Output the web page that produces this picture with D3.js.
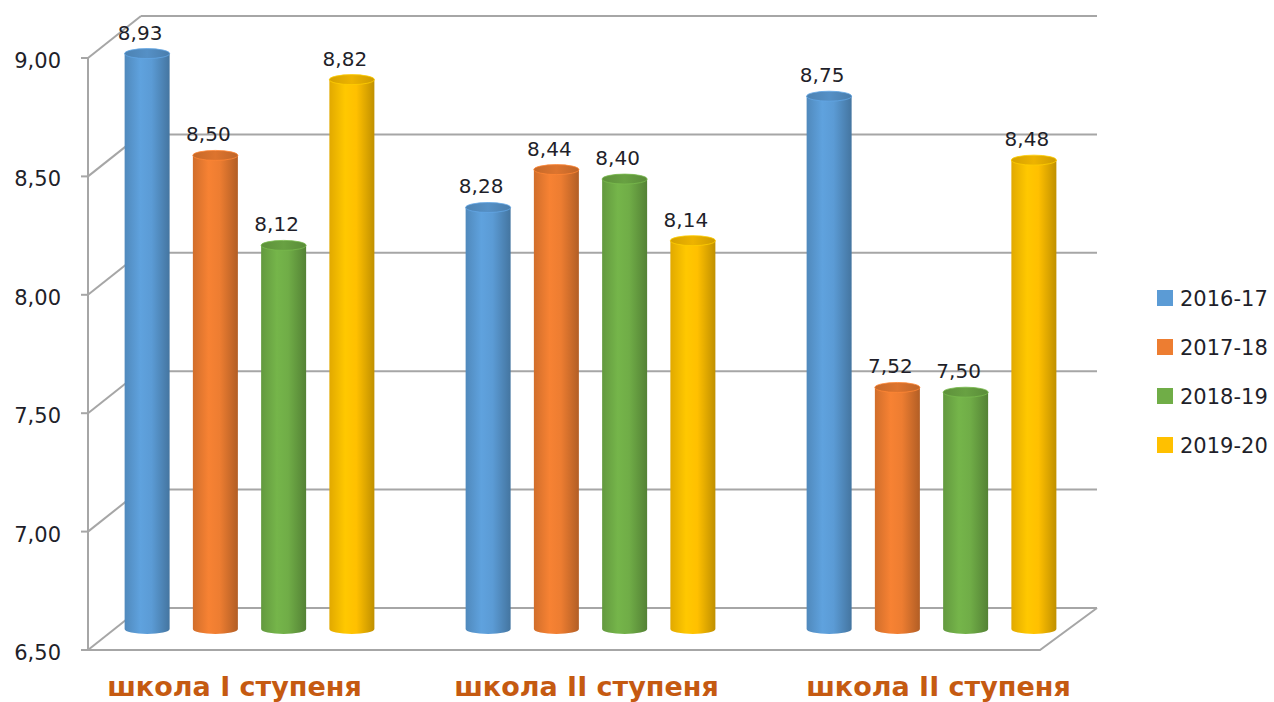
<!DOCTYPE html>
<html>
<head>
<meta charset="utf-8">
<script src="https://cdn.jsdelivr.net/npm/d3@7"></script>
<style>
  html, body { margin: 0; padding: 0; background: #fff; }
  svg { display: block; }
</style>
</head>
<body>
<div id="chart"></div>
<script>
// chart data
const categories = ['школа I ступеня', 'школа II ступеня', 'школа II ступеня '];
const seriesNames = ['2016-17', '2017-18', '2018-19', '2019-20'];
const seriesColors = ['#5b9bd5', '#ed7d31', '#70ad47', '#ffc000'];
const values2016 = [8.93, 8.28, 8.75];
const values2017 = [8.50, 8.44, 7.52];
const values2018 = [8.12, 8.40, 7.50];
const values2019 = [8.82, 8.14, 8.48];
const yTicks = [6.5, 7.0, 7.5, 8.0, 8.5, 9.0];

const seriesValues = [values2016, values2017, values2018, values2019];

const width = 1274, height = 702;
const DX = 53, DY = -42;   // depth of the 3d box
const RX = 22.5, RY = 5;   // cylinder ellipse radii

const svg = d3.select('#chart').append('svg')
    .attr('width', width)
    .attr('height', height);

const y = d3.scaleLinear().domain([6.5, 9]).range([650, 58]);
const xOuter = d3.scaleBand().domain(d3.range(categories.length)).range([79, 1102]);
const xInner = d3.scaleBand().domain(seriesNames).range([0, 273])
    .paddingInner(0.34).paddingOuter(0.17);

const fmt = v => d3.format('.2f')(v).replace('.', ',');

// gradients for the cylinders
const defs = svg.append('defs');
seriesColors.forEach((c, i) => {
    const base = d3.color(c);
    const g = defs.append('linearGradient').attr('id', 'body' + i)
        .attr('x1', 0).attr('x2', 1).attr('y1', 0).attr('y2', 0);
    g.append('stop').attr('offset', '0%').attr('stop-color', base.darker(0.35));
    g.append('stop').attr('offset', '35%').attr('stop-color', base.brighter(0.12));
    g.append('stop').attr('offset', '60%').attr('stop-color', base);
    g.append('stop').attr('offset', '100%').attr('stop-color', base.darker(0.8));
    const t = defs.append('linearGradient').attr('id', 'cap' + i)
        .attr('x1', 0).attr('x2', 1).attr('y1', 0).attr('y2', 0);
    t.append('stop').attr('offset', '0%').attr('stop-color', base.darker(0.5));
    t.append('stop').attr('offset', '50%').attr('stop-color', base.darker(0.2));
    t.append('stop').attr('offset', '100%').attr('stop-color', base.darker(0.6));
});

const gridColor = '#a6a6a6';
const walls = svg.append('g').attr('stroke', gridColor).attr('stroke-width', 2).attr('fill', 'none');

// back wall gridlines
walls.selectAll('.back').data(yTicks).join('line')
    .attr('x1', 88 + DX).attr('x2', 1097)
    .attr('y1', d => y(d) + DY).attr('y2', d => y(d) + DY);

// side wall diagonals
walls.selectAll('.side').data(yTicks).join('line')
    .attr('x1', 88).attr('x2', 88 + DX)
    .attr('y1', d => y(d)).attr('y2', d => y(d) + DY);

// front axis + ticks
walls.append('line').attr('x1', 88).attr('x2', 88)
    .attr('y1', y(9)).attr('y2', y(6.5));
walls.selectAll('.tick').data(yTicks).join('line')
    .attr('x1', 81).attr('x2', 88)
    .attr('y1', d => y(d)).attr('y2', d => y(d));

// floor
walls.append('path')
    .attr('d', `M88,${y(6.5)} L1040,${y(6.5)} L1097,${y(6.5) + DY}`);

// y axis labels
svg.append('g').selectAll('text').data(yTicks).join('text')
    .attr('x', 61).attr('y', d => y(d) + 10)
    .attr('text-anchor', 'end')
    .attr('font-family', 'DejaVu Sans, sans-serif')
    .attr('font-size', 21)
    .attr('fill', '#1f1f2a')
    .text(d => fmt(d));

// cylinders
const bars = [];
seriesValues.forEach((vals, si) => {
    vals.forEach((v, ci) => {
        bars.push({ si, ci, v });
    });
});

const cx = d => xOuter(d.ci) + xOuter.bandwidth() / 2 - 136.5
    + xInner(seriesNames[d.si]) + xInner.bandwidth() / 2;

const barG = svg.append('g');
const cyl = barG.selectAll('g').data(bars).join('g');

cyl.append('path')
    .attr('fill', d => `url(#body${d.si})`)
    .attr('d', d => {
        const x = cx(d);
        const yt = y(d.v) + DY / 2;
        const yb = y(6.5) + DY / 2;
        return `M${x - RX},${yt} L${x - RX},${yb} A${RX},${RY} 0 0 0 ${x + RX},${yb} L${x + RX},${yt} Z`;
    });

cyl.append('ellipse')
    .attr('cx', d => cx(d))
    .attr('cy', d => y(d.v) + DY / 2)
    .attr('rx', RX).attr('ry', RY)
    .attr('fill', d => `url(#cap${d.si})`)
    .attr('stroke', d => d3.color(seriesColors[d.si]).brighter(0.2))
    .attr('stroke-width', 0.8);

// value labels
svg.append('g').selectAll('text').data(bars).join('text')
    .attr('x', d => cx(d) - 7)
    .attr('y', d => y(d.v) + DY / 2 - 14)
    .attr('text-anchor', 'middle')
    .attr('font-family', 'DejaVu Sans, sans-serif')
    .attr('font-size', 20)
    .attr('fill', '#1f1f2a')
    .text(d => fmt(d.v));

// category labels (slightly spread, like the perspective of the original)
svg.append('g').selectAll('text').data(categories).join('text')
    .attr('x', (d, i) => xOuter(i) + xOuter.bandwidth() / 2 + (i - 1) * 11 - 4)
    .attr('y', 696)
    .attr('text-anchor', 'middle')
    .attr('font-family', 'DejaVu Sans, sans-serif')
    .attr('font-weight', 'bold')
    .attr('font-size', 27)
    .attr('fill', '#c55a11')
    .text(d => d.trim());

// legend
const legend = svg.append('g').attr('transform', 'translate(1157,298)');
const item = legend.selectAll('g').data(seriesNames).join('g')
    .attr('transform', (d, i) => `translate(0,${i * 49})`);
item.append('rect')
    .attr('x', 0).attr('y', -8).attr('width', 16).attr('height', 16)
    .attr('fill', (d, i) => seriesColors[i]);
item.append('text')
    .attr('x', 23).attr('y', 8)
    .attr('font-family', 'DejaVu Sans, sans-serif')
    .attr('font-size', 21)
    .attr('fill', '#1f1f2a')
    .text(d => d);
</script>
</body>
</html>
